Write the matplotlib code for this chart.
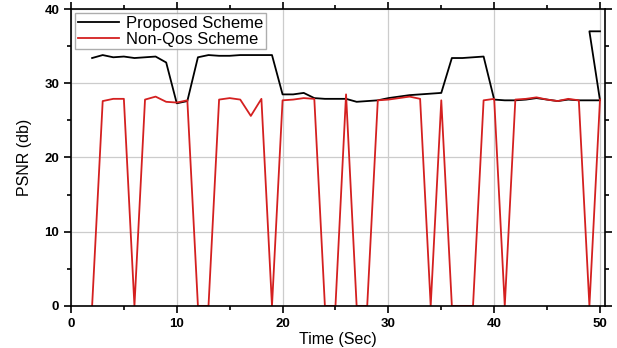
import matplotlib
matplotlib.use('Agg')
import matplotlib.pyplot as plt
from matplotlib.ticker import MultipleLocator

plt.rcParams['font.family'] = ['Liberation Sans', 'DejaVu Sans']

# Proposed scheme (black)
t_prop = [2, 3, 4, 5, 6, 7, 8, 9, 10, 11, 12, 13, 14, 15, 16, 17, 18, 19, 20,
          21, 22, 23, 24, 25, 26, 27, 28, 29, 30, 31, 32, 33, 34, 35, 36, 37,
          38, 39, 40, 41, 42, 43, 44, 45, 46, 47, 48, 50, 49, 50]
psnr_prop = [33.4, 33.8, 33.5, 33.6, 33.4, 33.5, 33.6, 32.8, 27.3, 27.6, 33.5,
             33.8, 33.7, 33.7, 33.8, 33.8, 33.8, 33.8, 28.5, 28.5, 28.7, 28.0,
             27.9, 27.9, 27.9, 27.5, 27.6, 27.7, 28.0, 28.2, 28.4, 28.5, 28.6,
             28.7, 33.4, 33.4, 33.5, 33.6, 27.8, 27.7, 27.7, 27.8, 28.0, 27.8,
             27.6, 27.8, 27.7, 27.7, 37.0, 37.0]

# Non-QoS scheme (red)
t_nonqos = list(range(2, 51))
psnr_nonqos = [0, 27.6, 27.9, 27.9, 0, 27.8, 28.2, 27.5, 27.4, 27.7, 0, 0,
               27.8, 28.0, 27.8, 25.6, 27.9, 0, 27.7, 27.8, 28.0, 27.9, 0, 0,
               28.5, 0, 0, 27.7, 27.8, 28.0, 28.2, 27.9, 0, 27.7, 0, 0, 0,
               27.7, 27.9, 0, 27.8, 27.9, 28.1, 27.8, 27.6, 27.9, 27.7, 0, 27.8]

fig = plt.figure(figsize=(6.17, 3.48), dpi=100)
ax = fig.add_axes([0.115, 0.121, 0.866, 0.853])

ax.plot(t_prop, psnr_prop, color='black', lw=1.3, label='Proposed Scheme')
ax.plot(t_nonqos, psnr_nonqos, color='#d42020', lw=1.3, label='Non-Qos Scheme')

ax.set_xlim(0, 50.5)
ax.set_ylim(0, 40)
ax.xaxis.set_major_locator(MultipleLocator(10))
ax.xaxis.set_minor_locator(MultipleLocator(5))
ax.yaxis.set_major_locator(MultipleLocator(10))
ax.yaxis.set_minor_locator(MultipleLocator(5))
ax.tick_params(which='both', direction='out', top=True, right=True, width=1.2)
ax.tick_params(which='major', length=5)
ax.tick_params(which='minor', length=3)
for lbl in ax.get_xticklabels() + ax.get_yticklabels():
    lbl.set_fontweight('bold')
    lbl.set_fontsize(9.5)
for s in ax.spines.values():
    s.set_linewidth(1.2)

ax.grid(True, which='major', color='#cccccc', lw=0.9)
ax.set_axisbelow(True)

ax.set_xlabel('Time (Sec)', fontsize=11.5, labelpad=2)
ax.set_ylabel('PSNR (db)', fontsize=11.5, labelpad=9)

leg = ax.legend(loc='upper left', fontsize=12, frameon=True, fancybox=False,
                edgecolor='#999999', borderpad=0.15, labelspacing=0.05,
                handlelength=2.5, handletextpad=0.4, borderaxespad=0.25)
leg.get_frame().set_linewidth(1.0)

plt.savefig('out.png', dpi=100)
